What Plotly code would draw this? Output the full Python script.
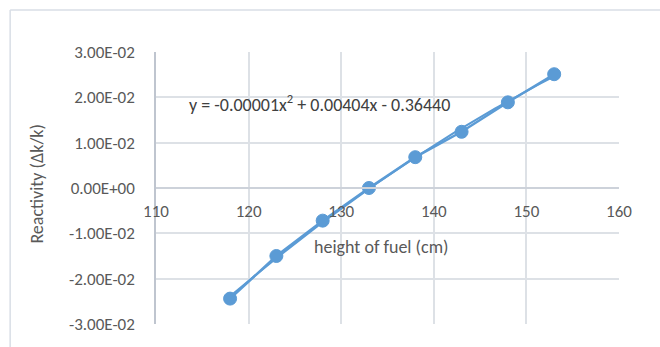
import numpy as np
import plotly.graph_objects as go

# Data
height_cm = [118, 123, 128, 133, 138, 143, 148, 153]
reactivity = [-0.0244, -0.0150, -0.0072, 0.0000, 0.0068, 0.0124, 0.0189, 0.0251]
x_ticks = [110, 120, 130, 140, 150, 160]
y_ticks = [-0.03, -0.02, -0.01, 0.0, 0.01, 0.02, 0.03]
y_tick_labels = ["-3.00E-02", "-2.00E-02", "-1.00E-02", "0.00E+00",
                 "1.00E-02", "2.00E-02", "3.00E-02"]
equation_text = "y = -0.00001x<sup>2</sup> + 0.00404x - 0.36440"
x_title = "height of fuel (cm)"
y_title = "Reactivity (Δk/k)"

# Polynomial (order 2) trendline, as Excel computes it from the data
coef = np.polyfit(height_cm, reactivity, 2)
trend_x = np.linspace(min(height_cm), max(height_cm), 100)
trend_y = np.polyval(coef, trend_x)

BLUE = "#5B9BD5"
TEXT = "#595959"
GRID = "#DDE1E6"
FONT = "Carlito, Lato, Calibri, sans-serif"
FS = 17

fig = go.Figure()
fig.add_trace(go.Scatter(x=trend_x, y=trend_y, mode="lines",
                         line=dict(color=BLUE, width=2), hoverinfo="skip",
                         showlegend=False))
fig.add_trace(go.Scatter(x=height_cm, y=reactivity, mode="lines+markers",
                         line=dict(color=BLUE, width=2.5),
                         marker=dict(color=BLUE, size=13,
                                     line=dict(color=BLUE, width=1)),
                         showlegend=False))

fig.add_annotation(x=113.4, y=0.0187, text=equation_text, showarrow=False,
                   xanchor="left", yanchor="middle",
                   font=dict(family=FONT, size=18, color="#404040"))

# Axis titles placed where the reference shows them
fig.add_annotation(x=134.3, y=-0.0130, text=x_title, showarrow=False,
                   xanchor="center", yanchor="middle",
                   font=dict(family=FONT, size=18, color=TEXT))
fig.add_annotation(xref="paper", x=-0.2577, y=0.0009, text=y_title,
                   showarrow=False, textangle=-90,
                   xanchor="center", yanchor="middle",
                   font=dict(family=FONT, size=18, color=TEXT))

# Outer chart-area border (left and top edges visible)
fig.add_shape(type="line", xref="paper", yref="paper",
              x0=-0.315, y0=-0.1, x1=-0.315, y1=1.154,
              line=dict(color="#D9DEE6", width=1.5))
fig.add_shape(type="line", xref="paper", yref="paper",
              x0=-0.315, y0=1.154, x1=1.2, y1=1.154,
              line=dict(color="#D9DEE6", width=1.5))

fig.update_layout(
    width=660, height=347,
    margin=dict(l=156, r=41, t=52, b=23, autoexpand=False),
    paper_bgcolor="white", plot_bgcolor="white",
    font=dict(family=FONT, size=FS, color=TEXT),
    xaxis=dict(range=[110, 160], tickvals=x_ticks,
               showgrid=True, gridcolor=GRID, gridwidth=1.5,
               zeroline=False, anchor="free", position=0.5,
               showline=True, linecolor="#CDD2DA", linewidth=1.5,
               ticks="", ticklabelstandoff=8,
               tickfont=dict(family=FONT, size=FS, color=TEXT)),
    yaxis=dict(range=[-0.03, 0.03], tickvals=y_ticks, ticktext=y_tick_labels,
               showgrid=True, gridcolor=GRID, gridwidth=1.5,
               zeroline=False, showline=True, linecolor="#BFC5CF",
               linewidth=1.5, ticks="", ticklabelstandoff=16,
               tickfont=dict(family=FONT, size=FS, color=TEXT)),
)

fig.write_html("out.html", config={"displayModeBar": False},
               post_script="document.body.style.margin='0';"
                           "document.body.style.padding='0';")
